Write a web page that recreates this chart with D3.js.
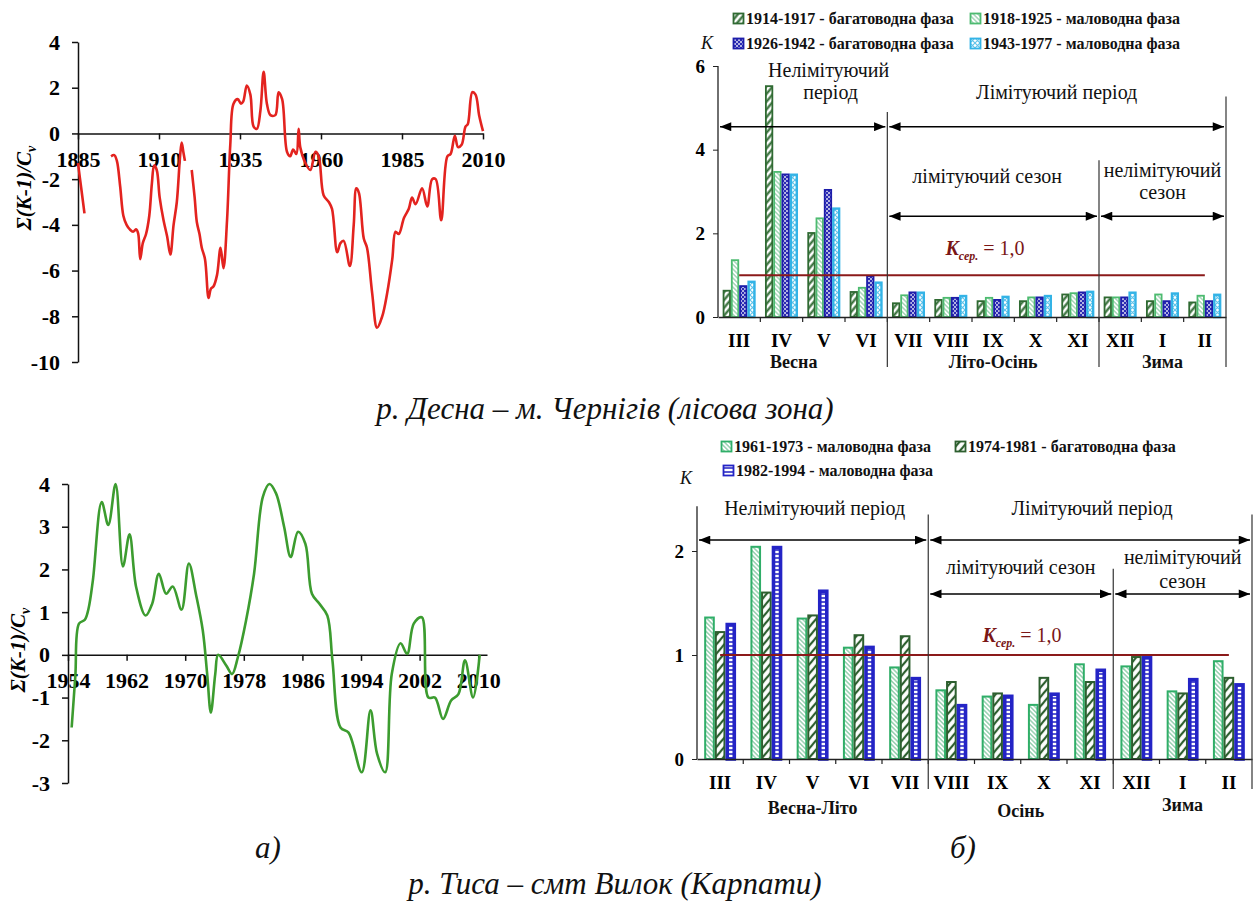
<!DOCTYPE html>
<html><head><meta charset="utf-8">
<script src="https://cdn.jsdelivr.net/npm/d3@7"></script>
<style>
body{margin:0;background:#fff}
svg{display:block}
svg text{font-family:"Liberation Serif","Tinos","Times New Roman","DejaVu Serif",serif !important}
</style>
</head><body>
<svg id="c" width="1260" height="903"></svg>
<script>
// ---------- DATA ----------
// Desna (Chernihiv) cumulative curve; null = gap in record
const desnaYears = [1885,1886,1887,1891,
 1895.2,1896.2,1897,1898,1899,1900,1901,1902,1903,1903.6,1904.2,1905,1906,1907,1907.8,1908.5,1909.3,1910.2,1911.4,1912.5,1913.5,1914.5,1915.5,1916.5,1917,1917.5,1918,
 1919,
 1920.1,1921,1921.7,1922.5,1923.2,1924.2,1925.3,1926,1926.8,1927.9,1929,1929.9,1931,1932,1933,1934.3,1935.3,1936,1937.1,1938.2,1939.2,1940.2,1941.3,1942.3,1943.3,1944.4,1945.9,1946.9,1948,1949.5,1950.5,1951.4,1952.4,1953.1,1953.6,1955.2,1956.7,1958.3,1959.3,1960.8,1962.4,1963.4,1965,1966,1967,1968.9,1970.1,1970.9,1971.7,1973.2,1974.2,1975.8,1977.3,1978.9,1980.4,1982,1983,1984,1985.6,1987.1,1988.1,1989.2,1991.2,1992.8,1994.3,1995.4,1997.1,1999,2000,2001.3,2002.3,2003.4,2004.6,2005.3,2006.7,2007.7,2008.8,2010];
const desnaValues = [-1.3,-2.4,-3.5,null,
 -1.0,-0.95,-1.2,-2.3,-3.6,-4.0,-4.2,-4.3,-4.2,-4.4,-5.5,-4.8,-4.4,-3.6,-2.2,-1.4,-1.6,-2.8,-3.8,-4.5,-5.3,-4.0,-3.0,-1.0,-0.4,-0.8,-1.2,
 null,
 -1.6,-2.8,-3.9,-4.4,-5.0,-5.5,-7.2,-6.8,-6.7,-6.2,-5.0,-5.9,-3.8,-0.5,1.3,1.5,1.3,1.4,2.1,1.7,0.3,0.2,1.0,2.7,1.3,0.8,0.8,1.8,1.5,-0.8,-1.0,-0.7,-0.9,0.2,-0.6,-1.3,-1.6,-0.8,-1.0,-2.7,-3.0,-3.3,-5.2,-4.8,-4.7,-5.8,-4.0,-2.4,-2.6,-4.6,-5.0,-7.0,-8.5,-8.0,-7.0,-5.5,-4.3,-4.4,-3.7,-3.3,-2.8,-3.1,-2.4,-3.2,-2.0,-2.0,-3.8,-1.0,-0.9,-0.1,-0.6,-0.5,0.3,0.4,1.8,1.7,0.8,0.1];
const desnaYearTicks = [1885,1910,1935,1960,1985,2010];
const desnaValueTicks = [-10,-8,-6,-4,-2,0,2,4];

// Tisa (Vylok) cumulative curve
const tisaYears = [1954.5,1955,1955.5,1956.3,1956.8,1957.4,1958.6,1959.5,1960.5,1961.5,1962.4,1963.3,1964.6,1965.5,1966.4,1967.4,1968.3,1969.5,1970.5,1971.5,1972.4,1973,1973.5,1974.1,1974.5,1975.6,1976.4,1977.2,1978.3,1979.4,1980.6,1981.5,1982.4,1983.5,1984.4,1985.4,1986.4,1987.3,1988.3,1989.4,1990.1,1991.2,1992.3,1994.1,1995.3,1996.2,1997.3,1998.2,1999.4,2000.3,2001.2,2002.3,2003.2,2004.1,2005.2,2006.3,2007.3,2008.2,2009.3,2010.2];
const tisaValues = [-1.7,-0.5,0.73,0.82,1.08,1.75,3.58,3.04,4.0,2.07,2.82,1.59,0.92,1.2,1.9,1.43,1.6,1.06,2.14,1.39,0.57,-0.45,-1.35,-0.45,0.0,-0.25,-0.45,-0.05,0.8,1.9,3.7,4.0,3.78,3.0,2.29,2.88,2.6,1.43,1.2,0.92,-0.13,-1.7,-1.82,-2.75,-1.3,-2.32,-2.75,-0.45,0.27,0.02,0.73,0.88,-1.0,-1.0,-1.5,-1.07,-0.92,-0.13,-1.0,0.0];
const tisaYearTicks = [1954,1962,1970,1978,1986,1994,2002,2010];
const tisaValueTicks = [-3,-2,-1,0,1,2,3,4];

const months = ["III","IV","V","VI","VII","VIII","IX","X","XI","XII","I","II"];

// Desna monthly K by phase
const desnaPhaseNames = ["1914-1917 - багатоводна фаза","1918-1925 - маловодна фаза","1926-1942 - багатоводна фаза","1943-1977 - маловодна фаза"];
const desnaK1914 = [0.65,5.54,2.03,0.62,0.35,0.43,0.40,0.40,0.56,0.49,0.40,0.37];
const desnaK1918 = [1.38,3.49,2.38,0.72,0.54,0.48,0.48,0.49,0.59,0.49,0.56,0.53];
const desnaK1926 = [0.76,3.43,3.06,1.00,0.61,0.48,0.43,0.49,0.61,0.49,0.40,0.40];
const desnaK1943 = [0.87,3.43,2.62,0.85,0.61,0.53,0.51,0.53,0.63,0.61,0.59,0.56];
const desnaKTicks = [0,2,4,6];

// Tisa monthly K by phase
const tisaPhaseNames = ["1961-1973 - маловодна фаза","1974-1981 - багатоводна фаза","1982-1994 - маловодна фаза"];
const tisaK1961 = [1.37,2.05,1.36,1.08,0.89,0.67,0.61,0.53,0.92,0.90,0.66,0.95];
const tisaK1974 = [1.23,1.61,1.39,1.20,1.19,0.75,0.64,0.79,0.75,0.99,0.64,0.79];
const tisaK1982 = [1.31,2.05,1.63,1.09,0.79,0.53,0.62,0.64,0.87,0.99,0.78,0.73];
const tisaKTicks = [0,1,2];

// ---------- DRAWING ----------
const svg = d3.select("#c");
const defs = svg.append("defs");

defs.append("marker").attr("id","arr").attr("viewBox","0 0 10 8")
  .attr("refX",10).attr("refY",4).attr("markerWidth",12).attr("markerHeight",9)
  .attr("markerUnits","userSpaceOnUse").attr("orient","auto-start-reverse")
  .append("path").attr("d","M0,0L10,4L0,8Z").attr("fill","#000");

function linePattern(id, angle, spacing, color, sw, bg) {
  const p = defs.append("pattern").attr("id",id).attr("patternUnits","userSpaceOnUse")
    .attr("width",spacing).attr("height",spacing).attr("patternTransform",`rotate(${angle})`);
  p.append("rect").attr("width",spacing).attr("height",spacing).attr("fill",bg||"#fff");
  p.append("line").attr("x1",spacing/2).attr("x2",spacing/2).attr("y1",0).attr("y2",spacing)
    .attr("stroke",color).attr("stroke-width",sw);
}
linePattern("pA",40,5,"#2f6a32",2.2);
linePattern("pB",-45,3.2,"#86c7a0",1.1);
{
  const p = defs.append("pattern").attr("id","pC").attr("patternUnits","userSpaceOnUse").attr("width",4).attr("height",4);
  p.append("rect").attr("width",4).attr("height",4).attr("fill","#2b2bb3");
  p.append("rect").attr("width",1.6).attr("height",1.6).attr("x",0.2).attr("y",0.2).attr("fill","#fff");
  p.append("rect").attr("width",1.6).attr("height",1.6).attr("x",2.2).attr("y",2.2).attr("fill","#fff");
}
{
  const p = defs.append("pattern").attr("id","pD").attr("patternUnits","userSpaceOnUse").attr("width",5).attr("height",5);
  p.append("rect").attr("width",5).attr("height",5).attr("fill","#fff");
  p.append("path").attr("d","M0,0L5,5M5,0L0,5").attr("stroke","#5fc3ea").attr("stroke-width",1.1);
}
linePattern("pE",-45,3.2,"#72c095",1.1);
linePattern("pF",40,6,"#2d5f2f",2.2);
{
  const p = defs.append("pattern").attr("id","pG").attr("patternUnits","userSpaceOnUse").attr("width",4).attr("height",4);
  p.append("rect").attr("width",4).attr("height",4).attr("fill","#fff");
  p.append("line").attr("x1",0).attr("x2",4).attr("y1",2).attr("y2",2).attr("stroke","#2a2ac4").attr("stroke-width",1.6);
}

const SERIF = "Liberation Serif, Tinos, Times New Roman, DejaVu Serif, serif";
svg.attr("font-family",SERIF);

function yTitle(x, y) {
  const t = svg.append("text").attr("transform",`translate(${x},${y}) rotate(-90)`)
    .attr("text-anchor","middle").attr("dy","0.35em")
    .attr("font-size",21).attr("font-weight","bold").attr("font-style","italic");
  t.append("tspan").text("Σ(K-1)/C");
  t.append("tspan").attr("font-size",14).attr("dy",5).text("v");
}

function lineChart(cfg) {
  const g = svg.append("g");
  const x = d3.scaleLinear().domain(cfg.xd).range(cfg.xr);
  const y = d3.scaleLinear().domain(cfg.yd).range(cfg.yr);
  const yAx = g.append("g").attr("transform",`translate(${cfg.xr[0]},0)`)
    .call(d3.axisLeft(y).tickValues(cfg.yticks).tickSize(6).tickSizeOuter(0).tickPadding(12).tickFormat(d3.format("d")));
  const xAx = g.append("g").attr("transform",`translate(0,${y(0)})`)
    .call(d3.axisBottom(x).tickValues(cfg.xticks).tickSize(6).tickSizeOuter(0).tickPadding(12).tickFormat(d3.format("d")));
  [yAx,xAx].forEach(a=>{
    a.attr("font-family",null);
    a.selectAll("text").attr("font-size",22).attr("font-weight","bold").attr("fill","#000");
    a.selectAll("line,path").attr("stroke","#111").attr("stroke-width",1.5);
  });
  yAx.selectAll("text").text(d=>d<0?"-"+Math.abs(d):d);
  const pts = cfg.years.map((yr,i)=>({x:yr,v:cfg.values[i]}));
  g.append("path").datum(pts)
    .attr("d", d3.line().defined(d=>d.v!==null).x(d=>x(d.x)).y(d=>y(d.v)).curve(d3.curveCatmullRom.alpha(0.5)))
    .attr("fill","none").attr("stroke",cfg.color).attr("stroke-width",2.6).attr("stroke-linejoin","round");
}

lineChart({years:desnaYears, values:desnaValues, xd:[1885,2010], xr:[78,483], yd:[-10,4], yr:[362,42],
  xticks:desnaYearTicks, yticks:desnaValueTicks, color:"#e3231f"});
yTitle(24,188);
lineChart({years:tisaYears, values:tisaValues, xd:[1954,2011.2], xr:[68,487], yd:[-3,4], yr:[783,484],
  xticks:tisaYearTicks, yticks:tisaValueTicks, color:"#3c9c2f"});
yTitle(18,650);

function barChart(cfg) {
  const g = svg.append("g");
  const x = d3.scaleBand().domain(months).range(cfg.xr).paddingInner(cfg.pad).paddingOuter(cfg.pad/2);
  const y = d3.scaleLinear().domain([0,cfg.ymax]).range(cfg.yr);
  const x1 = d3.scaleBand().domain(cfg.series.map((s,i)=>i)).range([0,x.bandwidth()]);
  const b = i => cfg.xr[0] + i*x.step();
  const y0 = y(0);
  cfg.series.forEach((s,i)=>{
    g.append("g").selectAll("rect").data(s.values).join("rect")
      .attr("x",(d,j)=>x(months[j])+x1(i)+s.sw/2)
      .attr("width",x1.bandwidth()-s.sw)
      .attr("y",d=>y(d)+s.sw/2)
      .attr("height",d=>Math.max(0,y0-y(d)-s.sw/2))
      .attr("fill",`url(#${s.pat})`).attr("stroke",s.color).attr("stroke-width",s.sw);
  });
  const yAx = g.append("g").attr("transform",`translate(${cfg.xr[0]},0)`)
    .call(d3.axisLeft(y).tickValues(cfg.yticks).tickSize(5).tickSizeOuter(0).tickPadding(8).tickFormat(d3.format("d")));
  yAx.attr("font-family",null);
  yAx.select(".domain").remove();
  yAx.selectAll("text").attr("font-size",19).attr("font-weight","bold").attr("fill","#000");
  yAx.selectAll("line").attr("stroke","#222");
  g.append("line").attr("x1",cfg.xr[0]).attr("x2",cfg.xr[0]).attr("y1",y0).attr("y2",y(cfg.axisTop)).attr("stroke","#222").attr("stroke-width",1.3);
  const xAx = g.append("g").attr("transform",`translate(0,${y0})`)
    .call(d3.axisBottom(x).tickSize(0).tickPadding(17));
  xAx.attr("font-family",null);
  xAx.select(".domain").attr("stroke","#222").attr("stroke-width",1.3);
  xAx.selectAll("text").attr("font-size",19).attr("font-weight","bold").attr("fill","#000");
  g.append("g").selectAll("line").data(d3.range(1,12)).join("line")
    .attr("x1",i=>b(i)).attr("x2",i=>b(i)).attr("y1",y0).attr("y2",y0+5).attr("stroke","#222").attr("stroke-width",1.2);
  g.append("line").attr("x1",x(months[0])+x.bandwidth()/2).attr("x2",x(months[11])+x.bandwidth()/2)
    .attr("y1",y(1)).attr("y2",y(1)).attr("stroke","#8b1a1a").attr("stroke-width",2);
  const kl = g.append("text").attr("x",cfg.kx).attr("y",y(cfg.kv)).attr("text-anchor","middle").attr("dy","0.35em")
    .attr("fill","#7a1616").attr("font-size",20);
  kl.append("tspan").attr("font-style","italic").attr("font-weight","bold").text("K");
  kl.append("tspan").attr("font-style","italic").attr("font-weight","bold").attr("font-size",12).attr("dy",5).text("сер.");
  kl.append("tspan").attr("dy",-5).text(" = 1,0");
  cfg.dividers.forEach(dv=>{
    g.append("line").attr("x1",b(dv.i)).attr("x2",b(dv.i)).attr("y1",y(dv.top)).attr("y2",y0+cfg.divBelow)
      .attr("stroke","#333").attr("stroke-width",1.2);
  });
  cfg.arrows.forEach(a=>{
    g.append("line").attr("x1",b(a.from)+2).attr("x2",b(a.to)-2).attr("y1",y(a.v)).attr("y2",y(a.v))
      .attr("stroke","#000").attr("stroke-width",1.5)
      .attr("marker-start","url(#arr)").attr("marker-end","url(#arr)");
  });
  cfg.labels.forEach(l=>{
    g.append("text").attr("x",(b(l.from)+b(l.to))/2+(l.dx||0)).attr("y",l.v!==undefined?y(l.v):y0+l.below)
      .attr("text-anchor","middle").attr("dy","0.35em").attr("font-size",l.size||20)
      .attr("font-weight",l.bold?"bold":"normal").attr("fill","#111").text(l.t);
  });
  cfg.legend.forEach((it,i)=>{
    const lg = g.append("g").attr("transform",`translate(${it.x},${it.y})`);
    lg.append("rect").attr("x",-4.5).attr("y",-4.5).attr("width",10).attr("height",10)
      .attr("fill",`url(#${cfg.series[i].pat})`).attr("stroke",cfg.series[i].color).attr("stroke-width",1.8);
    lg.append("text").attr("x",8).attr("dy","0.35em").attr("font-size",16).attr("font-weight","bold").attr("fill","#111").text(it.t);
  });
  g.append("text").attr("x",cfg.kPos[0]).attr("y",cfg.kPos[1]).attr("dy","0.35em").attr("text-anchor","middle")
    .attr("font-size",18).attr("font-style","italic").attr("fill","#111").text("K");
}

barChart({
  xr:[718,1226], pad:0.22, yr:[317,66], ymax:6, yticks:desnaKTicks, axisTop:6,
  series:[
    {values:desnaK1914, pat:"pA", color:"#2f6a32", sw:1.8},
    {values:desnaK1918, pat:"pB", color:"#4dbb70", sw:1.8},
    {values:desnaK1926, pat:"pC", color:"#1d1daa", sw:1.8},
    {values:desnaK1943, pat:"pD", color:"#33b3e6", sw:2.4}
  ],
  kx:985, kv:1.66,
  dividers:[{i:4,top:4.9},{i:9,top:3.75},{i:12,top:5.27}],
  divBelow:50,
  arrows:[{from:0,to:4,v:4.55},{from:4,to:12,v:4.55},{from:4,to:9,v:2.41},{from:9,to:12,v:2.41}],
  labels:[
    {t:"Нелімітуючий",from:0,to:4,v:5.9,dx:26},
    {t:"період",from:0,to:4,v:5.37,dx:28},
    {t:"Лімітуючий період",from:4,to:12,v:5.37},
    {t:"лімітуючий сезон",from:4,to:9,v:3.38,dx:-6},
    {t:"нелімітуючий",from:9,to:12,v:3.52},
    {t:"сезон",from:9,to:12,v:3.0},
    {t:"Весна",from:0,to:4,below:45,dx:-9,bold:true,size:18},
    {t:"Літо-Осінь",from:4,to:9,below:45,bold:true,size:18},
    {t:"Зима",from:9,to:12,below:45,bold:true,size:18}
  ],
  legend:[
    {t:desnaPhaseNames[0],x:738,y:18},
    {t:desnaPhaseNames[1],x:975,y:18},
    {t:desnaPhaseNames[2],x:738,y:43},
    {t:desnaPhaseNames[3],x:975,y:43}
  ],
  kPos:[707,43]
});

barChart({
  xr:[697,1252], pad:0.31, yr:[759,551], ymax:2, yticks:tisaKTicks, axisTop:2.43,
  series:[
    {values:tisaK1961, pat:"pE", color:"#2fae68", sw:2},
    {values:tisaK1974, pat:"pF", color:"#2d5f2f", sw:2},
    {values:tisaK1982, pat:"pG", color:"#2424c6", sw:3.6}
  ],
  kx:1022, kv:1.19,
  dividers:[{i:5,top:2.35},{i:9,top:1.83},{i:12,top:2.35}],
  divBelow:30,
  arrows:[{from:0,to:5,v:2.105},{from:5,to:12,v:2.105},{from:5,to:9,v:1.587},{from:9,to:12,v:1.587}],
  labels:[
    {t:"Нелімітуючий період",from:0,to:5,v:2.41,dx:2},
    {t:"Лімітуючий період",from:5,to:12,v:2.41,dx:2},
    {t:"лімітуючий сезон",from:5,to:9,v:1.85},
    {t:"нелімітуючий",from:9,to:12,v:1.94},
    {t:"сезон",from:9,to:12,v:1.71},
    {t:"Весна-Літо",from:0,to:5,below:49,bold:true,size:18},
    {t:"Осінь",from:5,to:9,below:52,bold:true,size:18},
    {t:"Зима",from:9,to:12,below:46,bold:true,size:18}
  ],
  legend:[
    {t:tisaPhaseNames[0],x:726,y:446},
    {t:tisaPhaseNames[1],x:960,y:446},
    {t:tisaPhaseNames[2],x:728,y:470}
  ],
  kPos:[686,478]
});

function caption(x,y,t){ svg.append("text").attr("x",x).attr("y",y).attr("text-anchor","middle")
  .attr("font-size",31).attr("font-style","italic").attr("fill","#111").text(t); }
caption(605,419,"р. Десна – м. Чернігів (лісова зона)");
caption(268,858,"а)");
caption(963,858,"б)");
caption(615,894,"р. Тиса – смт Вилок (Карпати)");
</script>
</body></html>
